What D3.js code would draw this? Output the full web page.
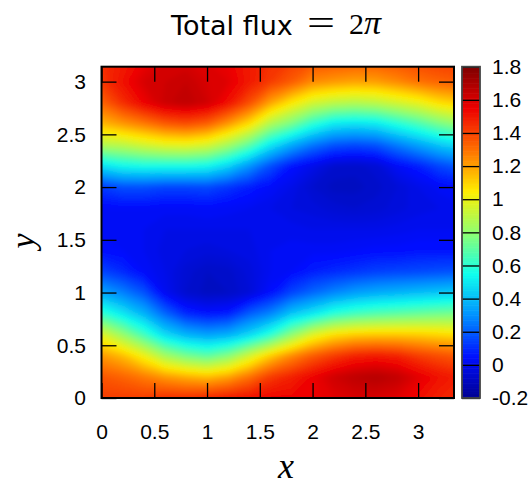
<!DOCTYPE html>
<html><head><meta charset="utf-8">
<script src="https://cdn.jsdelivr.net/npm/d3@7"></script>
<style>body{margin:0;background:#fff}</style>
</head><body>
<svg id="c" width="531" height="487" xmlns="http://www.w3.org/2000/svg"></svg>
<script>
// ---- data ----
const xs = [0,0.2,0.4,0.6,0.8,1.0,1.2,1.4,1.6,1.8,2.0,2.2,2.4,2.6,2.8,3.0,3.2,3.4];
const ys = [3.2,3.0,2.8,2.6,2.4,2.2,2.0,1.8,1.6,1.4,1.2,1.0,0.8,0.6,0.4,0.2,0.0];
const z = [
 [1.45,1.50,1.55,1.60,1.60,1.58,1.55,1.50,1.45,1.42,1.38,1.37,1.36,1.36,1.38,1.40,1.42,1.43],
 [1.43,1.52,1.60,1.62,1.64,1.60,1.58,1.50,1.42,1.35,1.25,1.22,1.20,1.21,1.25,1.30,1.33,1.35],
 [1.33,1.45,1.55,1.63,1.66,1.62,1.52,1.38,1.20,1.06,0.95,0.90,0.88,0.90,0.95,1.00,1.08,1.12],
 [1.16,1.22,1.28,1.35,1.38,1.34,1.22,1.08,0.87,0.75,0.60,0.50,0.48,0.50,0.58,0.66,0.75,0.82],
 [0.88,0.90,0.95,0.99,1.00,0.96,0.85,0.70,0.50,0.36,0.25,0.18,0.16,0.18,0.26,0.34,0.42,0.48],
 [0.48,0.54,0.56,0.56,0.56,0.54,0.45,0.31,0.17,0.06,0.00,-0.06,-0.07,-0.05,0.03,0.08,0.15,0.20],
 [0.13,0.17,0.17,0.15,0.15,0.16,0.12,0.08,0.04,0.00,-0.06,-0.09,-0.09,-0.07,-0.04,0.00,0.03,0.05],
 [0.04,0.04,0.04,0.03,0.03,0.04,0.03,0.02,0.00,-0.02,-0.03,-0.05,-0.06,-0.05,-0.03,-0.01,0.00,0.01],
 [0.03,0.03,0.02,0.00,0.00,0.00,0.00,0.00,0.00,0.01,0.00,0.00,0.00,0.00,0.01,0.02,0.02,0.02],
 [0.05,0.04,0.02,-0.01,-0.02,-0.03,-0.02,-0.01,0.02,0.03,0.03,0.03,0.04,0.05,0.05,0.06,0.06,0.06],
 [0.15,0.10,0.04,0.00,-0.05,-0.08,-0.07,-0.03,0.02,0.04,0.08,0.10,0.12,0.14,0.15,0.16,0.17,0.18],
 [0.35,0.27,0.18,0.02,-0.06,-0.09,-0.08,-0.04,0.05,0.15,0.22,0.28,0.33,0.36,0.38,0.40,0.42,0.44],
 [0.62,0.50,0.38,0.22,0.10,0.06,0.08,0.20,0.28,0.42,0.50,0.60,0.65,0.68,0.70,0.72,0.74,0.75],
 [0.98,0.82,0.65,0.47,0.38,0.34,0.37,0.46,0.60,0.80,0.98,1.08,1.12,1.13,1.13,1.12,1.10,1.08],
 [1.22,1.15,1.02,0.85,0.75,0.70,0.78,0.95,1.12,1.25,1.35,1.42,1.48,1.50,1.48,1.42,1.38,1.35],
 [1.36,1.33,1.28,1.22,1.18,1.15,1.20,1.30,1.42,1.48,1.55,1.62,1.66,1.68,1.65,1.58,1.52,1.48],
 [1.42,1.42,1.42,1.45,1.45,1.47,1.50,1.52,1.55,1.55,1.55,1.58,1.60,1.60,1.58,1.53,1.48,1.45]
];
const xTicks = [0,0.5,1,1.5,2,2.5,3];
const yTicks = [0,0.5,1,1.5,2,2.5,3];
const cbTicks = [-0.2,0,0.2,0.4,0.6,0.8,1,1.2,1.4,1.6,1.8];
const xDomain = [0, 3.34];
const yDomain = [0, Math.PI];
const cbDomain = [-0.2, 1.8];
const palStops = [-0.2,0.05,0.3,0.55,0.8,1.05,1.3,1.55,1.8];
const palColors = ["#000090","#000fff","#0090ff","#0fffee","#90ff70","#ffee00","#ff7000","#ee0000","#7f0000"];

// ---- layout ----
const L = 101.5, R = 454, T = 66.7, B = 398;
const svg = d3.select("#c");
const x = d3.scaleLinear(xDomain, [L, R]);
const y = d3.scaleLinear(yDomain, [B, T]);
const color = d3.scaleLinear(palStops, palColors).interpolate(d3.interpolateRgb).clamp(true);

const defs = svg.append("defs");
defs.append("clipPath").attr("id","plotclip").append("rect")
  .attr("x",L).attr("y",T).attr("width",R-L).attr("height",B-T);
const f = defs.append("filter").attr("id","soft")
  .attr("x","-2%").attr("y","-2%").attr("width","104%").attr("height","104%");
f.append("feGaussianBlur").attr("stdDeviation",2.5);

// grid of cells -> filled contour bands (d3.contours, linear smoothing)
const n = xs.length, m = ys.length;
const values = [];
for (let j = 0; j < m; j++) for (let i = 0; i < n; i++) values.push(z[j][i]);
const step = 0.02;
const thresholds = d3.range(0, 102).map(k => -0.22 + k*step);
const bands = d3.contours().size([n, m]).thresholds(thresholds)(values);
const halfX = (xs[1]-xs[0])/2, halfY = (ys[0]-ys[1])/2;
const gx = d3.scaleLinear([0, n], [xs[0]-halfX, xs[n-1]+halfX]);
const gy = d3.scaleLinear([0, m], [ys[0]+halfY, ys[m-1]-halfY]);
const proj = d3.geoTransform({point(px, py){ this.stream.point(x(gx(px)), y(gy(py))); }});
const path = d3.geoPath(proj);

const heat = svg.append("g").attr("clip-path","url(#plotclip)");
heat.append("g").attr("filter","url(#soft)")
  .selectAll("path").data(bands).join("path")
  .attr("d", path)
  .attr("fill", d => color(d.value + step/2));

// ---- axes ----
const fmt = d=>String(d);
const fontAx = "'Liberation Sans', Arial, sans-serif";
function styleAxis(g){
  g.select(".domain").remove();
  g.selectAll(".tick line").attr("stroke","#000").attr("stroke-width",1.3);
  g.selectAll(".tick text").attr("font-family",fontAx).attr("font-size",21).attr("fill","#000");
}
svg.append("g").attr("transform",`translate(0,${B})`)
  .call(d3.axisBottom(x).tickValues(xTicks).tickSize(-15).tickPadding(26).tickFormat(fmt)).call(styleAxis);
svg.append("g").attr("transform",`translate(0,${T})`)
  .call(d3.axisTop(x).tickValues(xTicks).tickSize(-15).tickFormat("")).call(styleAxis);
svg.append("g").attr("transform",`translate(${L},0)`)
  .call(d3.axisLeft(y).tickValues(yTicks).tickSize(-15).tickPadding(15.5).tickFormat(fmt)).call(styleAxis);
svg.append("g").attr("transform",`translate(${R},0)`)
  .call(d3.axisRight(y).tickValues(yTicks).tickSize(-15).tickFormat("")).call(styleAxis);

svg.append("rect").attr("x",L).attr("y",T).attr("width",R-L).attr("height",B-T)
  .attr("fill","none").attr("stroke","#000").attr("stroke-width",2);

// ---- colorbar ----
const CL = 462, CR = 480;
const cb = d3.scaleLinear(cbDomain, [B, T]);
const steps = d3.range(0, 200).map(k => cbDomain[0] + (cbDomain[1]-cbDomain[0])*k/200);
const stepH = (cbDomain[1]-cbDomain[0])/200;
svg.append("g").selectAll("rect").data(steps).join("rect")
  .attr("x",CL).attr("width",CR-CL)
  .attr("y",d=>cb(d+stepH)).attr("height",d=>cb(d)-cb(d+stepH)+0.6)
  .attr("fill",d=>color(d+stepH/2));
svg.append("g").attr("transform",`translate(${CR},0)`)
  .call(d3.axisRight(cb).tickValues(cbTicks).tickSize(-(CR-CL)).tickPadding(12).tickFormat(fmt)).call(styleAxis);
svg.append("rect").attr("x",CL).attr("y",T).attr("width",CR-CL).attr("height",B-T)
  .attr("fill","none").attr("stroke","#444").attr("stroke-width",1.8);

// ---- titles ----
svg.append("text").attr("x",171).attr("y",35)
  .attr("font-family","'DejaVu Sans', sans-serif").attr("font-size",27).attr("fill","#000")
  .text("Total flux");
svg.append("text").attr("x",307).attr("y",35)
  .attr("font-family","'Liberation Serif', serif").attr("font-size",36).attr("fill","#000")
  .attr("textLength",28).attr("lengthAdjust","spacingAndGlyphs").text("=");
const t2 = svg.append("text").attr("x",349).attr("y",34)
  .attr("font-family","'Liberation Serif', serif").attr("font-size",30).attr("fill","#000");
t2.append("tspan").text("2");
t2.append("tspan").attr("font-style","italic").attr("font-size",34).text("π");

svg.append("text").attr("x",286).attr("y",478).attr("text-anchor","middle")
  .attr("font-family","'Liberation Serif', serif").attr("font-style","italic").attr("font-size",36)
  .attr("fill","#000").text("x");
svg.append("text").attr("transform","translate(34,241) rotate(-90)").attr("text-anchor","middle")
  .attr("font-family","'Liberation Serif', serif").attr("font-style","italic").attr("font-size",34)
  .attr("fill","#000").text("y");
</script>
</body></html>
